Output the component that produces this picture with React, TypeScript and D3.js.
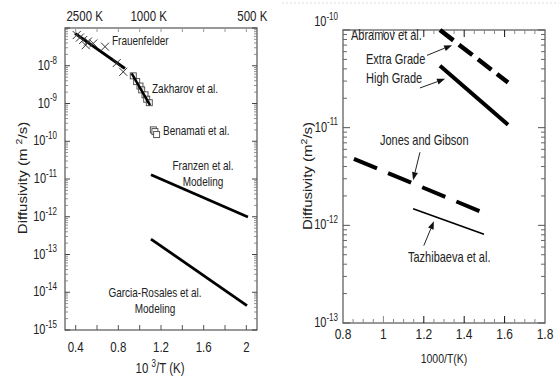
import React from 'react';
import * as d3 from 'd3';

// ---------- Left panel data ----------
const leftXTickVals = [0.4, 0.8, 1.2, 1.6, 2];
const leftXMinorVals = [0.4, 0.6, 0.8, 1.0, 1.2, 1.4, 1.6, 1.8, 2.0];
const leftYExps = [-8, -9, -10, -11, -12, -13, -14, -15];
const topTemps = [2500, 1000, 500];
const topTempLabels = ['2500 K', '1000 K', '500 K'];

const frauenX = [0.41, 0.44, 0.47, 0.494, 0.516, 0.565, 0.675, 0.785, 0.846];
const frauenD = [6.5e-8, 5.6e-8, 4.8e-8, 3.5e-8, 4.4e-8, 3.9e-8, 3.2e-8, 1.18e-8, 6.9e-9];
const frauenLineX = [0.394, 0.862];
const frauenLineD = [7.2e-8, 8.5e-9];

const zakhX = [0.94, 0.972, 1.003, 1.019, 1.05, 1.066, 1.09];
const zakhD = [5.4e-9, 3.8e-9, 2.9e-9, 2.3e-9, 1.7e-9, 1.3e-9, 1.05e-9];
const zakhLineX = [0.925, 1.097];
const zakhLineD = [6.3e-9, 9.1e-10];

const benX = [1.128, 1.143, 1.159];
const benD = [2.0e-10, 1.8e-10, 1.5e-10];

const franzenX = [1.106, 2.015];
const franzenD = [1.29e-11, 9.8e-13];
const garciaX = [1.106, 2.006];
const garciaD = [2.57e-13, 4.4e-15];

// ---------- Right panel data ----------
const rightXTickVals = [0.8, 1, 1.2, 1.4, 1.6, 1.8];
const rightXTickLabels = ['0.8', '1', '1.2', '1.4', '1.6', '1.8'];
const rightYExps = [-10, -11, -12, -13];

const extraX = [1.28, 1.617];
const extraD = [1.0e-10, 2.9e-11];
const highX = [1.28, 1.617];
const highD = [4.3e-11, 1.07e-11];
const jonesX = [0.854, 1.493];
const jonesD = [4.8e-12, 1.35e-12];
const tazhX = [1.147, 1.498];
const tazhD = [1.48e-12, 8.1e-13];

// arrows: [tailX, tailD, headX, headD]
const arrowExtra = [1.216, 5.5e-11, 1.34, 7.0e-11];
const arrowHigh = [1.181, 2.55e-11, 1.305, 3.16e-11];
const arrowJones = [1.181, 5.6e-12, 1.147, 2.9e-12];
const arrowTazh = [1.2, 6.2e-13, 1.25, 1.1e-12];

const FONT = 'Liberation Sans, Arial, Helvetica, sans-serif';
const SY = 1.25;

function Txt(props: any) {
  const { x, y, size = 11, anchor = 'start', children, fill = '#222' } = props;
  return (
    <text
      transform={`translate(${x},${y}) scale(1,${SY})`}
      fontSize={size}
      textAnchor={anchor}
      fontFamily={FONT}
      fill={fill}
    >
      {children}
    </text>
  );
}

function Arrow({ x1, y1, x2, y2 }: any) {
  const ang = Math.atan2(y2 - y1, x2 - x1);
  const L = 8, W = 3;
  const bx = x2 - L * Math.cos(ang), by = y2 - L * Math.sin(ang);
  const px = -Math.sin(ang) * W, py = Math.cos(ang) * W;
  return (
    <g>
      <line x1={x1} y1={y1} x2={bx} y2={by} stroke="#222" strokeWidth={1} />
      <path d={`M${x2},${y2}L${bx + px},${by + py}L${bx - px},${by - py}Z`} fill="#111" />
    </g>
  );
}

export default function App() {
  // left scales
  const L = { x0: 65, x1: 257, y0: 28, y1: 330 };
  const lx = d3.scaleLinear().domain([0.3, 2.1]).range([L.x0, L.x1]);
  const ly = d3.scaleLog().domain([1e-15, 1e-7]).range([L.y1, L.y0]);
  // right scales
  const R = { x0: 343, x1: 545, y0: 30, y1: 323 };
  const rx = d3.scaleLinear().domain([0.8, 1.8]).range([R.x0, R.x1]);
  const ry = d3.scaleLog().domain([1e-13, 1e-10]).range([R.y1, R.y0]);

  const lineL = d3.line<[number, number]>().x(d => lx(d[0])).y(d => ly(d[1]));
  const lineR = d3.line<[number, number]>().x(d => rx(d[0])).y(d => ry(d[1]));
  const pair = (xs: number[], ds: number[]) => xs.map((v, i) => [v, ds[i]] as [number, number]);

  // log minor ticks
  const leftMinor: number[] = [];
  for (let e = -15; e < -7; e++) for (let k = 2; k <= 9; k++) leftMinor.push(k * Math.pow(10, e));
  const leftMajor = d3.range(-15, -6).map(e => Math.pow(10, e));
  const rightMinor: number[] = [];
  for (let e = -13; e < -10; e++) for (let k = 2; k <= 9; k++) rightMinor.push(k * Math.pow(10, e));
  const rightMajor = d3.range(-13, -9).map(e => Math.pow(10, e));
  const rightXMinor = d3.range(17, 36).map(i => i * 0.05).filter(v => v > 0.81 && v < 1.79);

  return (
    <svg width={559} height={380} style={{ position: 'absolute', left: 0, top: 0, background: '#fff' }}>
      {/* faint top dotted line on right */}
      <line x1={282} y1={3} x2={559} y2={3} stroke="#ddd" strokeDasharray="2 2" />

      {/* ================= LEFT PANEL ================= */}
      <rect x={L.x0} y={L.y0} width={L.x1 - L.x0} height={L.y1 - L.y0} fill="none" stroke="#555" strokeWidth={1.2} />
      {leftMinor.map((v, i) => (
        <g key={'lm' + i}>
          <line x1={L.x0} x2={L.x0 + 3} y1={ly(v)} y2={ly(v)} stroke="#777" strokeWidth={0.8} />
          <line x1={L.x1} x2={L.x1 - 3} y1={ly(v)} y2={ly(v)} stroke="#777" strokeWidth={0.8} />
        </g>
      ))}
      {leftMajor.map((v, i) => (
        <g key={'lM' + i}>
          <line x1={L.x0} x2={L.x0 + 5} y1={ly(v)} y2={ly(v)} stroke="#444" />
          <line x1={L.x1} x2={L.x1 - 5} y1={ly(v)} y2={ly(v)} stroke="#444" />
        </g>
      ))}
      {leftXMinorVals.map((v, i) => (
        <g key={'lx' + i}>
          <line x1={lx(v)} x2={lx(v)} y1={L.y1} y2={L.y1 - 5} stroke="#555" />
          <line x1={lx(v)} x2={lx(v)} y1={L.y0} y2={L.y0 + 4} stroke="#999" />
        </g>
      ))}
      {leftXTickVals.map((v, i) => (
        <Txt key={'lxl' + i} x={lx(v)} y={352} size={11.5} anchor="middle">{String(v)}</Txt>
      ))}
      {leftYExps.map((e, i) => (
        <Txt key={'lyl' + i} x={57} y={ly(Math.pow(10, e)) + 4} size={11} anchor="end">
          10<tspan dy={-5} fontSize={8}>{String(e)}</tspan>
        </Txt>
      ))}
      {topTemps.map((t, i) => (
        <Txt key={'tt' + i} x={lx(1000 / t) + (i === 2 ? 6 : 9)} y={21} size={11.5} anchor="middle">{topTempLabels[i]}</Txt>
      ))}
      <Txt x={160} y={373} size={11.5} anchor="middle">
        10 <tspan dy={-5} fontSize={8}>3</tspan><tspan dy={5}>/T (K)</tspan>
      </Txt>
      <text
        transform={`translate(27,178) rotate(-90) scale(${SY},1)`}
        fontSize={12}
        textAnchor="middle"
        fontFamily={FONT}
        fill="#222"
      >
        Diffusivity (m <tspan dy={-5} fontSize={8.5}>2</tspan><tspan dy={5}>/s)</tspan>
      </text>

      {/* data left */}
      <path d={lineL(pair(frauenLineX, frauenLineD)) || ''} stroke="#000" strokeWidth={3} fill="none" />
      {frauenX.map((v, i) => {
        const cx = lx(v), cy = ly(frauenD[i]), s = 4;
        return (
          <path key={'fx' + i} d={`M${cx - s},${cy - s}L${cx + s},${cy + s}M${cx - s},${cy + s}L${cx + s},${cy - s}`} stroke="#333" strokeWidth={1} fill="none" />
        );
      })}
      {zakhX.map((v, i) => (
        <rect key={'zq' + i} x={lx(v) - 3} y={ly(zakhD[i]) - 3} width={6} height={6} fill="#fff" fillOpacity={0.6} stroke="#444" strokeWidth={0.9} />
      ))}
      <path d={lineL(pair(zakhLineX, zakhLineD)) || ''} stroke="#000" strokeWidth={2.5} fill="none" />
      {benX.map((v, i) => (
        <rect key={'bq' + i} x={lx(v) - 3} y={ly(benD[i]) - 3} width={6} height={6} fill="#fff" stroke="#444" strokeWidth={0.9} />
      ))}
      <path d={lineL(pair(franzenX, franzenD)) || ''} stroke="#000" strokeWidth={2.8} fill="none" />
      <path d={lineL(pair(garciaX, garciaD)) || ''} stroke="#000" strokeWidth={2.8} fill="none" />

      <Txt x={112} y={45} size={10}>Frauenfelder</Txt>
      <Txt x={152} y={93} size={10}>Zakharov et al.</Txt>
      <Txt x={163} y={135} size={10}>Benamati et al.</Txt>
      <Txt x={203} y={170} size={10} anchor="middle">Franzen et al.</Txt>
      <Txt x={203} y={186} size={10} anchor="middle">Modeling</Txt>
      <Txt x={155} y={297} size={10} anchor="middle">Garcia-Rosales et al.</Txt>
      <Txt x={155} y={313} size={10} anchor="middle">Modeling</Txt>

      {/* ================= RIGHT PANEL ================= */}
      <rect x={R.x0} y={R.y0} width={R.x1 - R.x0} height={R.y1 - R.y0} fill="none" stroke="#777" strokeWidth={1.5} />
      {rightMinor.map((v, i) => (
        <g key={'rm' + i}>
          <line x1={R.x0} x2={R.x0 + 4} y1={ry(v)} y2={ry(v)} stroke="#666" />
          <line x1={R.x1} x2={R.x1 - 4} y1={ry(v)} y2={ry(v)} stroke="#666" />
        </g>
      ))}
      {rightMajor.map((v, i) => (
        <g key={'rM' + i}>
          <line x1={R.x0} x2={R.x0 + 7} y1={ry(v)} y2={ry(v)} stroke="#555" />
          <line x1={R.x1} x2={R.x1 - 7} y1={ry(v)} y2={ry(v)} stroke="#555" />
        </g>
      ))}
      {rightXMinor.map((v, i) => {
        const major = Math.abs((v * 5) - Math.round(v * 5)) < 1e-6;
        const len = major ? 7 : 4;
        const col = major && v > 1.1 ? '#111' : '#888';
        return (
          <g key={'rx' + i}>
            <line x1={rx(v)} x2={rx(v)} y1={R.y1} y2={R.y1 - len} stroke={col} />
            <line x1={rx(v)} x2={rx(v)} y1={R.y0} y2={R.y0 + len} stroke={col} />
          </g>
        );
      })}
      {rightXTickVals.map((v, i) => (
        <Txt key={'rxl' + i} x={rx(v)} y={339} size={12} anchor="middle">{rightXTickLabels[i]}</Txt>
      ))}
      {rightYExps.map((e, i) => (
        <Txt key={'ryl' + i} x={338} y={ry(Math.pow(10, e)) + (i === 0 ? -4 : 4)} size={11} anchor="end">
          10<tspan dy={-5} fontSize={8}>{String(e)}</tspan>
        </Txt>
      ))}
      <Txt x={444} y={363} size={10.5} anchor="middle">1000/T(K)</Txt>
      <text
        transform={`translate(312,176) rotate(-90) scale(${SY},1)`}
        fontSize={12}
        textAnchor="middle"
        fontFamily={FONT}
        fill="#222"
      >
        Diffusivity (m<tspan dy={-5} fontSize={8.5}>2</tspan><tspan dy={5}>/s)</tspan>
      </text>

      {/* data right */}
      <path d={lineR(pair(extraX, extraD)) || ''} stroke="#000" strokeWidth={4.5} strokeDasharray="17 7" fill="none" />
      <path d={lineR(pair(highX, highD)) || ''} stroke="#000" strokeWidth={4} fill="none" />
      <path d={lineR(pair(jonesX, jonesD)) || ''} stroke="#000" strokeWidth={4} strokeDasharray="25 12" fill="none" />
      <path d={lineR(pair(tazhX, tazhD)) || ''} stroke="#000" strokeWidth={1.6} fill="none" />

      {[arrowExtra, arrowHigh, arrowJones, arrowTazh].map((a, i) => (
        <Arrow key={'ar' + i} x1={rx(a[0])} y1={ry(a[1])} x2={rx(a[2])} y2={ry(a[3])} />
      ))}

      <Txt x={351} y={39.5} size={11}>Abramov et al.</Txt>
      <Txt x={366} y={64} size={11}>Extra Grade</Txt>
      <Txt x={366} y={83} size={11}>High Grade</Txt>
      <Txt x={380} y={145} size={11}>Jones and Gibson</Txt>
      <Txt x={408} y={262} size={11}>Tazhibaeva et al.</Txt>
    </svg>
  );
}
